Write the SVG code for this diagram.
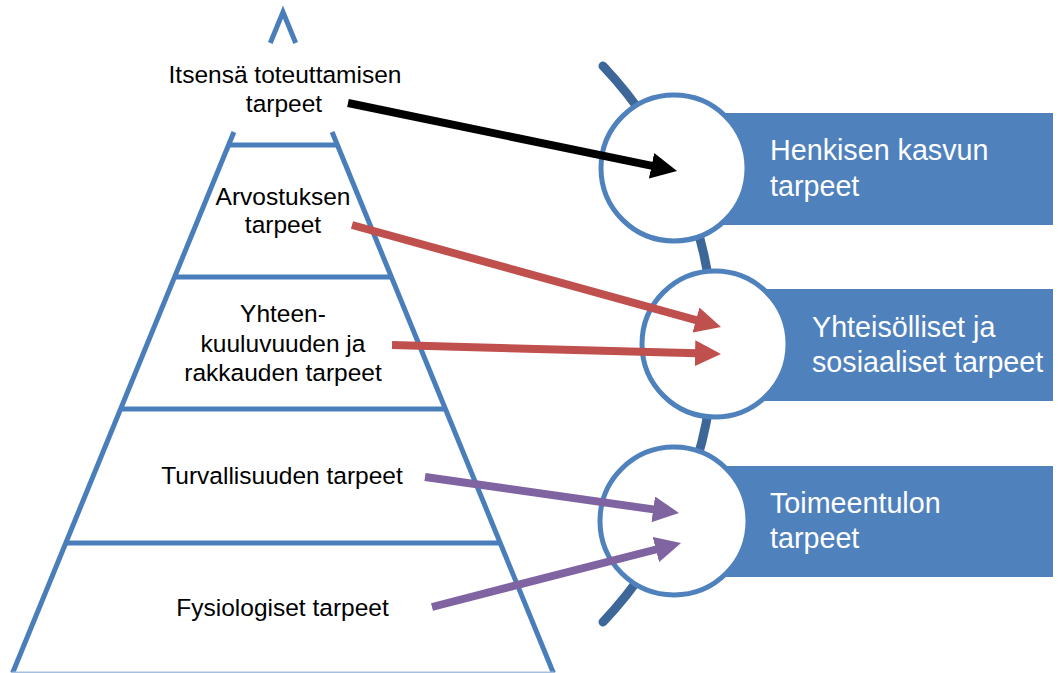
<svg xmlns="http://www.w3.org/2000/svg" width="1061" height="673" viewBox="0 0 1061 673">
<style>
.pyr{stroke:#4A7EBB;stroke-width:5;fill:none}
.pt{font-family:"Liberation Sans",Arial,sans-serif;font-size:24.5px;fill:#000;text-anchor:middle}
.rt{font-family:"Liberation Sans",Arial,sans-serif;font-size:28.7px;fill:#fff}
.band{fill:#4F81BD}
.circ{fill:#fff;stroke:#4F81BD;stroke-width:5}
.arr{stroke-width:8;fill:none}
</style>
<defs>
<marker id="hk" markerUnits="userSpaceOnUse" markerWidth="26" markerHeight="26" refX="2" refY="13" orient="auto"><path d="M0,0 L26,13 L0,26 z" fill="#000"/></marker>
<marker id="hr" markerUnits="userSpaceOnUse" markerWidth="26" markerHeight="26" refX="2" refY="13" orient="auto"><path d="M0,0 L26,13 L0,26 z" fill="#C0504D"/></marker>
<marker id="hp" markerUnits="userSpaceOnUse" markerWidth="26" markerHeight="26" refX="2" refY="13" orient="auto"><path d="M0,0 L26,13 L0,26 z" fill="#8064A2"/></marker>
</defs>
<rect width="1061" height="673" fill="#fff"/>
<g id="pyramid">
<polyline class="pyr" points="270.3,43 283,12 295.7,43" stroke-linejoin="miter"/>
<line class="pyr" x1="233.9" y1="132" x2="12.6" y2="673"/>
<line class="pyr" x1="332.1" y1="132" x2="553.4" y2="673"/>
<line class="pyr" x1="228" y1="145" x2="338" y2="145"/>
<line class="pyr" x1="174" y1="277" x2="392" y2="277"/>
<line class="pyr" x1="120" y1="409" x2="446" y2="409"/>
<line class="pyr" x1="66" y1="543" x2="500" y2="543"/>
<line x1="12" y1="672.5" x2="554" y2="672.5" stroke="#A7BFDE" stroke-width="2"/>
</g>
<g id="level5"><text class="pt" x="285" y="83">Itsensä toteuttamisen</text><text class="pt" x="284" y="112">tarpeet</text></g>
<g id="level4"><text class="pt" x="283" y="205">Arvostuksen</text><text class="pt" x="283" y="233">tarpeet</text></g>
<g id="level3"><text class="pt" x="283" y="322">Yhteen-</text><text class="pt" x="283" y="352">kuuluvuuden ja</text><text class="pt" x="283" y="381">rakkauden tarpeet</text></g>
<g id="level2"><text class="pt" x="282" y="484">Turvallisuuden tarpeet</text></g>
<g id="level1"><text class="pt" x="282.5" y="616">Fysiologiset tarpeet</text></g>
<g id="arc"><path d="M603,66 A404,404 0 0 1 603,622" fill="none" stroke="#3D6799" stroke-width="9" stroke-linecap="round"/></g>
<g id="growth">
<rect class="band" x="674" y="113" width="379" height="112"/>
<circle class="circ" cx="674" cy="168" r="73"/>
<text class="rt" x="770" y="160">Henkisen kasvun</text><text class="rt" x="770" y="196">tarpeet</text>
</g>
<g id="social">
<rect class="band" x="715" y="289" width="338" height="112"/>
<circle class="circ" cx="715" cy="344" r="73"/>
<text class="rt" x="812" y="337">Yhteisölliset ja</text><text class="rt" x="812" y="372">sosiaaliset tarpeet</text>
</g>
<g id="subsistence">
<rect class="band" x="674" y="466" width="379" height="111"/>
<circle class="circ" cx="674" cy="521" r="74"/>
<text class="rt" x="770" y="513">Toimeentulon</text><text class="rt" x="770" y="548">tarpeet</text>
</g>
<g id="connectors">
<line class="arr" stroke="#000" x1="348" y1="103" x2="653.5" y2="166.1" marker-end="url(#hk)"/>
<line class="arr" stroke="#C0504D" x1="352" y1="225" x2="697.9" y2="320.6" marker-end="url(#hr)"/>
<line class="arr" stroke="#C0504D" x1="392" y1="345" x2="697" y2="353.3" marker-end="url(#hr)"/>
<line class="arr" stroke="#8064A2" x1="425" y1="477" x2="655.2" y2="509.6" marker-end="url(#hp)"/>
<line class="arr" stroke="#8064A2" x1="432" y1="607" x2="657.8" y2="549" marker-end="url(#hp)"/>
</g>
</svg>
